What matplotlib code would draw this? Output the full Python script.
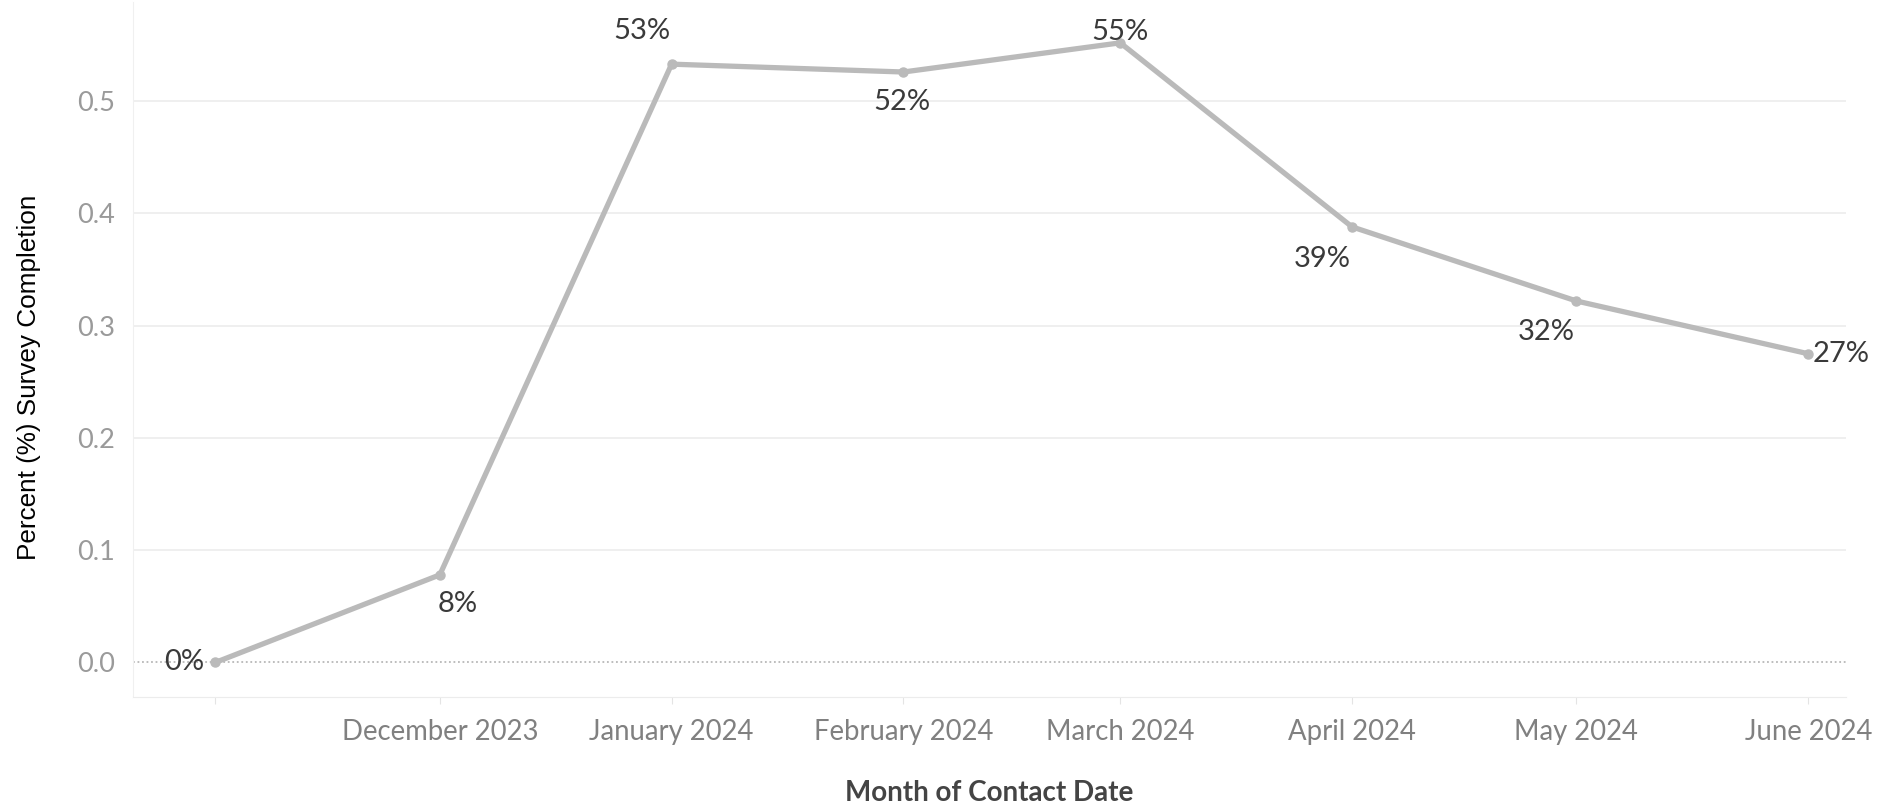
"""Monthly survey completion rate, drawn as a line with point labels"""
import datetime as dt

import matplotlib
matplotlib.use("Agg")
import matplotlib.pyplot as plt  # type: ignore
import matplotlib.dates as mdates

months = [dt.date(2023, 11, 1), dt.date(2023, 12, 1), dt.date(2024, 1, 1), dt.date(2024, 2, 1),
          dt.date(2024, 3, 1), dt.date(2024, 4, 1), dt.date(2024, 5, 1), dt.date(2024, 6, 1)]
completion = [0.0, 0.078, 0.533, 0.526, 0.552, 0.388, 0.322, 0.275]
point_labels = ["0%", "8%", "53%", "52%", "55%", "39%", "32%", "27%"]
tick_labels = ["", "December 2023", "January 2024", "February 2024", "March 2024",
               "April 2024", "May 2024", "June 2024"]
y_ticks = [0.0, 0.1, 0.2, 0.3, 0.4, 0.5]

# centre of each value label relative to its point, in points
label_offsets = [(-22.5, 0), (13, -21), (-21.5, 24), (-1, -21.5),
                 (0, 8), (-21.5, -23), (-21.5, -22.5), (24, 0)]

FONT = ["Lato", "DejaVu Sans"]
plt.rcParams["font.family"] = FONT

fig = plt.figure(figsize=(18.9, 8.06), dpi=100)
ax = fig.add_axes([0.0705, 0.135, 0.906, 0.862])

ax.plot(months, completion, color="#bababa", linewidth=3.8, marker="o", markersize=6.5,
        solid_capstyle="round", solid_joinstyle="round", zorder=3)

for d, v, txt, off in zip(months, completion, point_labels, label_offsets):
    ax.annotate(txt, (mdates.date2num(d), v), xytext=off, textcoords="offset points",
                ha="center", va="center", fontsize=21, color="#3a3a3a", zorder=4)

ax.set_xlim(mdates.date2num(dt.date(2023, 10, 21)), mdates.date2num(dt.date(2024, 6, 6)))
ax.set_ylim(-0.031, 0.588)

ax.set_xticks([mdates.date2num(d) for d in months])
ax.set_xticklabels(tick_labels)
ax.set_yticks(y_ticks)
ax.set_yticklabels([f"{t:.1f}" for t in y_ticks])
ax.tick_params(axis="x", length=5, color="#e4e4e4", labelsize=19.8, labelcolor="#808080", pad=11)
ax.tick_params(axis="y", length=0, labelsize=19.5, labelcolor="#9a9a9a", pad=13)

for t in y_ticks[1:]:
    ax.axhline(t, color="#efefef", linewidth=1.4, zorder=1)
ax.axhline(0.0, color="#b8b8b8", linewidth=1.3, linestyle=(0, (1, 1.5)), zorder=2)

for side in ("top", "right"):
    ax.spines[side].set_visible(False)
ax.spines["left"].set_color("#f0f0f0")
ax.spines["bottom"].set_color("#ececec")

ax.set_xlabel("Month of Contact Date", fontsize=20, color="#444444", fontweight="bold", labelpad=25)
fig.text(0.0155, 0.532, "Percent (%) Survey Completion", rotation=90, ha="center", va="center",
         fontsize=18.8, family=["Liberation Sans", "DejaVu Sans"], color="black")

fig.savefig("out.png", dpi=100)
